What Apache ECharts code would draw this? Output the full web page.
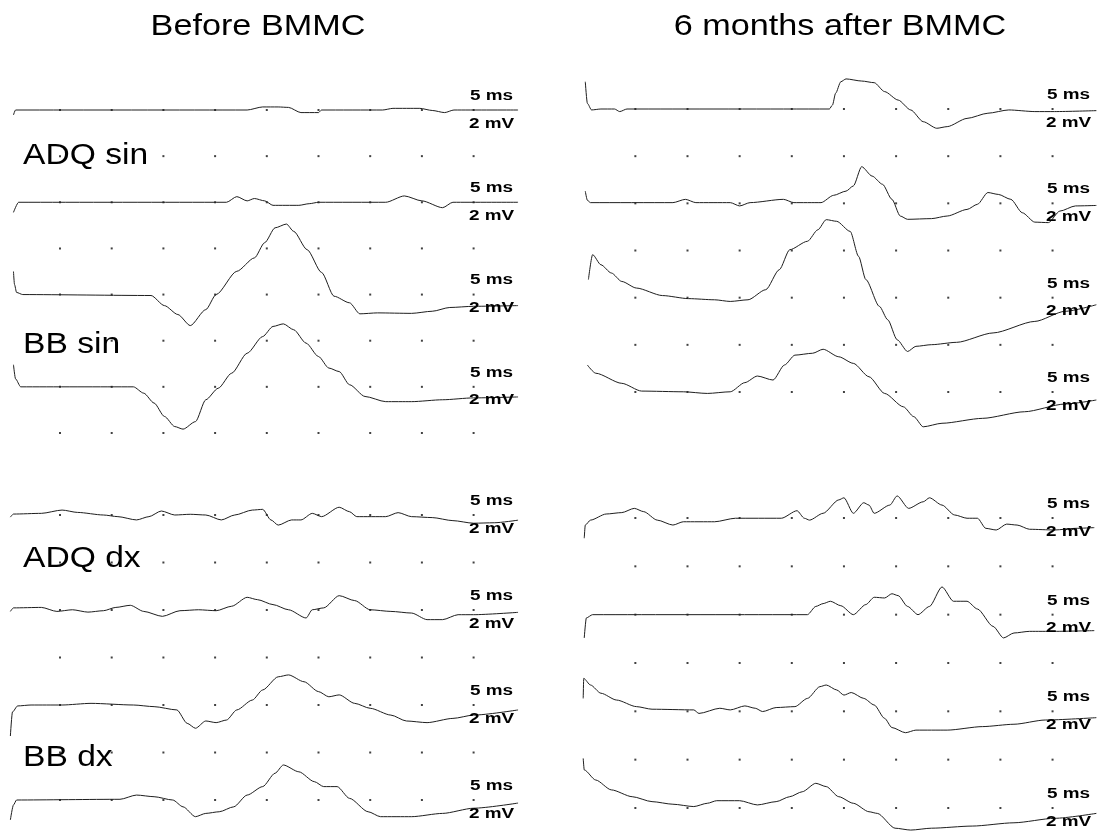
<!DOCTYPE html>
<html>
<head>
<meta charset="utf-8">
<script src="https://cdn.jsdelivr.net/npm/echarts@6/dist/echarts.min.js"></script>
<style>
  html, body { margin: 0; background: #fff; }
  #emg { width: 1100px; height: 832px; }
</style>
</head>
<body>
<div id="emg"></div>
<script>
var chart = echarts.init(document.getElementById('emg'));

// traces as [ms, mV], measured from each trace's own baseline
var beforeAdqSin1 = [[0.5,-0.21],[0.7,0],[23.1,0],[24.6,0.13],[26.1,0.13],[27.1,0.11],[28.3,-0.11],[30.0,-0.11],[30.3,0],[36.2,0],[37.2,0.07],[39.8,0.07],[41.0,-0.02],[42.2,-0.11],[43.1,0],[49.3,0]];
var beforeAdqSin2 = [[0.5,-0.43],[1.0,0],[21.1,0],[22.1,0.24],[23.1,0.06],[23.8,0.16],[24.8,0.06],[25.6,-0.13],[28.1,-0.13],[29.1,-0.06],[30.0,0],[36.5,0],[38.3,0.27],[40.0,0.06],[42.0,-0.23],[43.0,0],[49.3,0]];
var beforeBbSin1 = [[0.5,0.98],[0.6,0.43],[0.8,0.09],[1.4,0],[13.8,-0.04],[15.1,-0.47],[16.4,-0.85],[17.6,-1.32],[19.1,-0.64],[20.1,0],[22.1,0.99],[23.8,1.56],[24.8,2.21],[25.8,2.84],[26.9,3.0],[27.6,2.69],[28.9,1.91],[30.3,0.94],[31.5,-0.07],[33.0,-0.35],[34.0,-0.82],[35.7,-0.78],[39.0,-0.8],[41.0,-0.71],[42.7,-0.55],[45.0,-0.5],[49.3,-0.47]];
var beforeBbSin2 = [[0.5,0.94],[0.7,0.34],[1.2,0],[12.1,0],[13.1,-0.27],[14.1,-0.69],[15.1,-1.26],[16.1,-1.69],[16.9,-1.8],[18.1,-1.48],[19.1,-0.55],[20.3,-0.06],[21.6,0.58],[23.1,1.43],[24.6,2.14],[25.6,2.57],[26.6,2.68],[27.6,2.43],[28.8,1.86],[30.0,1.29],[31.0,0.8],[32.0,0.65],[33.0,0.09],[34.5,-0.41],[36.5,-0.63],[39.0,-0.63],[42.0,-0.55],[45.0,-0.47],[49.3,-0.43]];
var beforeAdqDx1 = [[0.2,-0.09],[0.5,0.04],[3.2,0.07],[5.2,0.21],[6.7,0.11],[9.2,0],[10.6,-0.07],[12.4,-0.21],[13.6,-0.07],[14.8,0.17],[16.1,0],[17.6,0.03],[19.1,0],[20.6,-0.21],[21.9,0],[23.6,0.21],[24.6,0.24],[25.4,-0.21],[26.1,-0.43],[27.4,-0.21],[28.3,-0.21],[29.4,0.07],[30.3,-0.07],[32.0,0.33],[33.0,0.14],[33.7,-0.07],[36.5,-0.07],[37.7,0.1],[39.0,-0.07],[41.0,-0.11],[43.0,-0.24],[45.0,-0.35],[47.0,-0.33],[49.3,-0.22]];
var beforeAdqDx2 = [[0.2,-0.06],[0.5,0.09],[3.2,0.11],[4.7,-0.06],[6.2,0.01],[7.7,-0.09],[9.2,-0.03],[10.4,0.11],[11.8,0.2],[13.1,-0.06],[14.9,-0.27],[16.6,-0.03],[18.4,0.01],[20.1,-0.03],[21.6,0.16],[23.1,0.54],[24.1,0.44],[25.6,0.23],[27.1,0.01],[28.8,-0.34],[29.4,0.01],[30.5,0.09],[32.0,0.61],[33.5,0.4],[35.0,0.01],[37.0,-0.06],[39.0,-0.13],[40.5,-0.41],[42.0,-0.41],[43.5,-0.2],[45.0,-0.2],[49.3,-0.1]];
var beforeBbDx1 = [[0.2,-1.32],[0.4,-0.3],[0.9,-0.04],[2.2,0],[5.2,0],[8.0,0.07],[12.1,0],[14.1,-0.07],[16.3,-0.21],[17.3,-0.78],[18.1,-0.99],[19.1,-0.68],[20.1,-0.75],[21.1,-0.64],[22.1,-0.21],[23.6,0.21],[24.6,0.64],[26.1,1.2],[27.1,1.28],[28.6,0.99],[30.0,0.57],[31.0,0.35],[32.0,0.43],[33.5,0.07],[35.0,-0.14],[37.0,-0.43],[38.5,-0.68],[40.5,-0.75],[43.0,-0.57],[45.0,-0.43],[49.3,-0.21]];
var beforeBbDx2 = [[0.2,-0.85],[0.5,-0.21],[0.8,0],[10.8,0.03],[12.4,0.21],[14.1,0.14],[15.9,0],[16.9,-0.29],[18.1,-0.71],[19.1,-0.57],[20.4,-0.5],[21.8,-0.29],[23.1,0.21],[24.6,0.57],[25.8,1.14],[26.6,1.49],[28.1,1.2],[29.6,0.78],[30.5,0.57],[31.8,0.57],[33.0,0.07],[34.8,-0.5],[36.0,-0.71],[39.0,-0.71],[42.0,-0.57],[45.0,-0.35],[49.3,-0.13]];

var afterAdqSin1 = [[0.2,1.16],[0.4,0.24],[0.8,-0.04],[1.7,0],[3.0,0],[3.5,-0.11],[4.2,0],[23.6,0],[23.9,0.17],[24.2,0.67],[24.7,1.16],[25.2,1.28],[26.7,1.19],[27.9,1.12],[28.9,0.74],[30.2,0.38],[31.4,-0.04],[32.6,-0.54],[33.9,-0.82],[34.9,-0.75],[36.8,-0.4],[38.8,-0.18],[40.8,-0.04],[43.3,-0.11],[45.2,-0.11],[49.2,-0.07]];
var afterAdqSin2 = [[0.2,0.52],[0.4,0.13],[0.7,0.03],[8.6,0.03],[9.8,0.17],[10.8,0.03],[14.1,0.03],[15.0,-0.11],[16.0,0.03],[19.2,0.17],[20.2,0.03],[22.8,0.03],[24.0,0.34],[25.2,0.52],[25.9,0.74],[26.7,1.56],[27.7,1.16],[28.7,0.81],[29.6,0.17],[30.4,-0.54],[31.1,-0.68],[33.4,-0.65],[34.9,-0.54],[36.8,-0.26],[37.8,-0.04],[38.8,0.46],[39.8,0.38],[41.0,0.17],[42.1,-0.4],[43.3,-0.8],[44.6,-0.82],[45.7,-0.33],[47.2,-0.11],[49.2,-0.09]];
var afterBbSin1 = [[0.5,0.77],[0.9,1.83],[1.7,1.4],[2.7,1.05],[3.7,0.69],[5.1,0.41],[7.6,0.09],[10.1,-0.04],[12.6,-0.09],[14.1,-0.16],[15.8,-0.09],[17.5,0.34],[18.8,1.19],[19.8,2.04],[21.5,2.4],[22.5,2.89],[23.3,3.32],[24.3,3.25],[25.6,2.82],[26.4,1.76],[27.1,0.77],[28.4,-0.37],[29.2,-0.94],[30.1,-1.79],[31.1,-2.29],[31.9,-2.07],[33.4,-2.0],[35.8,-1.9],[39.3,-1.5],[43.3,-1.01],[46.2,-0.58],[49.2,-0.3]];
var afterBbSin2 = [[0.4,1.15],[1.2,0.8],[3.7,0.37],[5.6,0.04],[9.6,0.01],[11.9,-0.06],[14.1,0.01],[15.5,0.4],[16.7,0.68],[18.2,0.51],[19.3,1.15],[20.3,1.57],[22.0,1.65],[23.0,1.82],[24.5,1.5],[25.9,1.22],[27.4,0.65],[28.9,-0.06],[30.7,-0.63],[31.7,-1.05],[32.6,-1.48],[34.4,-1.33],[38.3,-1.12],[42.3,-0.84],[46.2,-0.51],[49.2,-0.34]];
var afterAdqDx1 = [[0.1,-0.86],[0.2,-0.3],[0.7,-0.09],[2.2,0.17],[3.7,0.23],[4.9,0.41],[5.8,0.27],[7.1,-0.09],[8.6,-0.3],[9.6,-0.16],[12.6,-0.16],[14.6,-0.01],[19.0,-0.01],[20.5,0.31],[21.2,-0.01],[21.7,-0.09],[23.0,0.2],[24.5,0.77],[25.0,0.86],[25.9,0.2],[26.9,0.65],[27.4,0.55],[27.9,0.2],[29.4,0.55],[30.1,0.94],[31.2,0.41],[32.6,0.69],[33.2,0.86],[34.4,0.55],[35.6,0.13],[36.8,-0.01],[37.8,-0.01],[38.6,-0.44],[39.6,-0.51],[40.6,-0.26],[41.6,-0.3],[42.8,-0.48],[45.2,-0.51],[47.2,-0.44],[49.0,-0.41]];
var afterAdqDx2 = [[0.1,-0.99],[0.3,-0.14],[0.9,0],[21.5,0],[22.3,0.35],[23.0,0.47],[23.7,0.57],[24.7,0.38],[25.9,0],[27.1,0.43],[27.9,0.74],[28.9,0.71],[29.6,0.89],[30.2,0.81],[31.1,0.35],[32.1,0],[33.2,0.35],[34.4,1.18],[35.5,0.57],[36.8,0.57],[37.8,0.24],[39.3,-0.5],[40.3,-0.99],[41.3,-0.78],[42.8,-0.71],[45.2,-0.71],[49.0,-0.68]];
var afterBbDx1 = [[0.0,0.55],[0.05,1.4],[0.7,1.12],[1.7,0.77],[3.2,0.48],[5.1,0.2],[6.6,0.09],[10.6,0.06],[11.1,-0.09],[13.1,0.13],[14.1,0.06],[15.5,0.23],[16.5,0.13],[17.2,-0.01],[18.5,0.16],[20.3,0.2],[21.5,0.55],[22.7,1.05],[23.3,1.12],[24.3,0.91],[25.0,0.69],[25.7,0.8],[26.9,0.55],[27.9,0.27],[28.9,-0.3],[29.6,-0.69],[30.9,-0.91],[31.9,-0.8],[34.9,-0.8],[38.3,-0.65],[41.3,-0.55],[44.3,-0.37],[49.2,-0.27]];
var afterBbDx2 = [[0.0,2.11],[0.1,1.62],[1.2,1.19],[2.7,0.77],[4.7,0.48],[6.6,0.27],[8.6,0.16],[10.6,0.06],[11.9,0.2],[12.8,0.31],[15.0,0.31],[16.7,0.13],[18.5,0.27],[19.8,0.48],[21.0,0.69],[22.3,1.05],[23.3,0.91],[24.5,0.48],[25.9,0.2],[27.4,-0.16],[28.2,-0.23],[29.9,-0.86],[31.4,-0.94],[33.4,-0.86],[37.3,-0.77],[41.3,-0.63],[45.2,-0.44],[49.2,-0.23]];

var beforeTraces = [beforeAdqSin1, beforeAdqSin2, beforeBbSin1, beforeBbSin2, beforeAdqDx1, beforeAdqDx2, beforeBbDx1, beforeBbDx2];
var afterTraces = [afterAdqSin1, afterAdqSin2, afterBbSin1, afterBbSin2, afterAdqDx1, afterAdqDx2, afterBbDx1, afterBbDx2];

var gridTimes = [5, 10, 15, 20, 25, 30, 35, 40, 45];
var panelTitles = ['Before BMMC', '6 months after BMMC'];
var muscleLabels = ['ADQ sin', 'BB sin', 'ADQ dx', 'BB dx'];
var scaleLabels = ['5 ms', '2 mV'];

// layout of the two panels (pixels)
var panels = [
  { x0: 8.3, pxPerMs: 10.34, labelX: 491.5, titleX: 258, traces: beforeTraces,
    groups: [{ y0: 110, step: 46.14, rows: 8 }, { y0: 515, step: 47.5, rows: 7 }] },
  { x0: 583.2, pxPerMs: 10.43, labelX: 1068.5, titleX: 840, traces: afterTraces,
    groups: [{ y0: 109, step: 47.17, rows: 7 }, { y0: 518, step: 48.33, rows: 7 }] }
];
var muscleLabelY = [156, 345, 559, 757.5];
var pxPerMv = 23.5;
var mvMin = -2.5, mvMax = 3.5;
var msMax = 49.5;
var font = 'Liberation Sans, Arial, sans-serif';

var grids = [], xAxes = [], yAxes = [], series = [], texts = [];

function addGrid(left, top, width, height, xMax, yMin, yMax, yInverse) {
  grids.push({ left: left, top: top, width: width, height: height,
    containLabel: false, outerBoundsMode: 'none' });
  var i = grids.length - 1;
  xAxes.push({ type: 'value', gridIndex: i, min: 0, max: xMax, show: false });
  yAxes.push({ type: 'value', gridIndex: i, min: yMin, max: yMax, inverse: !!yInverse, show: false });
  return i;
}

function addText(str, x, y, size, weight, align, scaleX) {
  texts.push({ type: 'text', x: x, y: y, scaleX: scaleX, z: 10,
    style: { text: str, fill: '#000', fontFamily: font, fontSize: size, fontWeight: weight,
             align: align, verticalAlign: 'middle' } });
}

panels.forEach(function (p, pi) {
  var width = msMax * p.pxPerMs;

  // dot raster
  p.groups.forEach(function (g) {
    var gi = addGrid(p.x0, g.y0, width, g.step * (g.rows - 1), msMax, 0, g.rows - 1, true);
    var dots = [];
    for (var r = 0; r < g.rows; r++) {
      gridTimes.forEach(function (t) { dots.push([t, r]); });
    }
    series.push({
      type: 'scatter', xAxisIndex: gi, yAxisIndex: gi, data: dots,
      symbol: 'rect', symbolSize: 2, itemStyle: { color: '#111' }, silent: true, z: 1
    });
  });

  // traces
  p.traces.forEach(function (trace, ti) {
    var g = p.groups[ti < 4 ? 0 : 1];
    var baseline = g.y0 + (ti % 4) * 2 * g.step;
    var gi = addGrid(p.x0, baseline - mvMax * pxPerMv, width, (mvMax - mvMin) * pxPerMv, msMax, mvMin, mvMax, false);
    series.push({
      type: 'line', xAxisIndex: gi, yAxisIndex: gi, data: trace,
      showSymbol: false, symbol: 'none', silent: true, z: 3, clip: false,
      smooth: 0.25, smoothMonotone: 'x',
      lineStyle: { color: '#1e1e1e', width: 1 }
    });
    addText(scaleLabels[0], p.labelX, baseline - 14, 14, 'bold', 'center', 1.35);
    addText(scaleLabels[1], p.labelX, baseline + 13.8, 14, 'bold', 'center', 1.35);
  });

  addText(panelTitles[pi], p.titleX, 26.5, 30, 'normal', 'center', 1.14);
});

// muscle names on the left panel
muscleLabels.forEach(function (name, k) {
  addText(name, 23, muscleLabelY[k], 30, 'normal', 'left', 1.12);
});

chart.setOption({
  backgroundColor: '#fff',
  animation: false,
  grid: grids,
  xAxis: xAxes,
  yAxis: yAxes,
  series: series,
  graphic: { elements: texts }
});
</script>
</body>
</html>
